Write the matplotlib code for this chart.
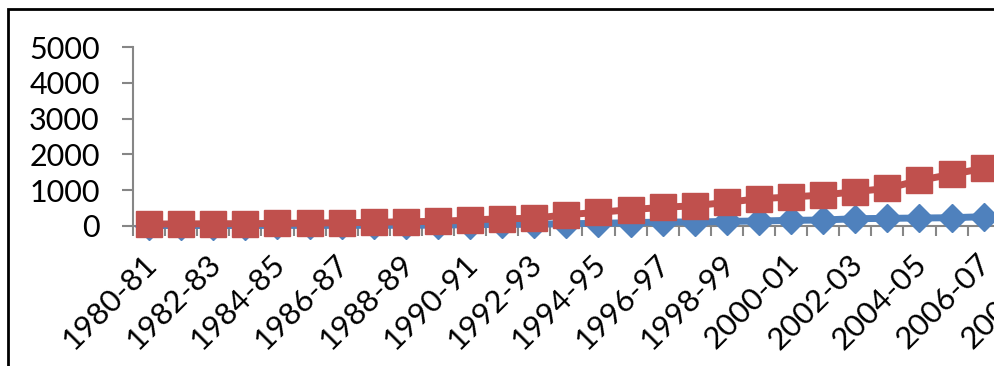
import matplotlib.pyplot as plt
from matplotlib.patches import Rectangle
from matplotlib.transforms import ScaledTranslation

# category labels (the chart is cropped on the right, last ones are partly hidden)
years = [
    '1980-81', '1981-82', '1982-83', '1983-84', '1984-85', '1985-86',
    '1986-87', '1987-88', '1988-89', '1989-90', '1990-91', '1991-92',
    '1992-93', '1993-94', '1994-95', '1995-96', '1996-97', '1997-98',
    '1998-99', '1999-00', '2000-01', '2001-02', '2002-03', '2003-04',
    '2004-05', '2005-06', '2006-07', '2007-08', '2008-09',
]

# series
blue_vals = [5, 5, 5, 5, 8, 8, 10, 10, 12, 15, 30, 35, 40, 56, 65, 84,
             103, 103, 121, 131, 150, 159, 196, 206, 215, 224, 252, 265, 280]
red_vals = [48, 48, 56, 56, 65, 70, 84, 93, 112, 121, 159, 196, 206, 308,
            374, 449, 514, 561, 654, 757, 804, 860, 953, 1047, 1271, 1439,
            1607, 1780, 1950]

yticks = [0, 1000, 2000, 3000, 4000, 5000]

plt.rcParams['font.family'] = ['Lato', 'DejaVu Sans']

W, H = 994, 366
fig = plt.figure(figsize=(W / 100, H / 100), dpi=100)

n = len(years)
step = 32.1
left, bottom, top = 133, 225.7, 47.3
ax = fig.add_axes([left / W, (H - bottom) / H,
                   n * step / W, (bottom - top) / H])

x = list(range(n))
ax.plot(x, blue_vals, color='#4F81BD', lw=5, marker='D', ms=14,
        mec='#4F81BD', clip_on=False, zorder=3)
ax.plot(x, red_vals, color='#C0504D', lw=5, marker='s', ms=18.5,
        mec='#C0504D', clip_on=False, zorder=4)

ax.set_xlim(-0.5, n - 0.5)
ax.set_ylim(0, 5000)

ax.set_yticks(yticks)
ax.set_yticklabels([str(v) for v in yticks], fontsize=22)
ax.tick_params(axis='y', length=8, width=1.5, color='#868686', pad=16)

# labels on every second category, tick marks on category boundaries
ax.set_xticks(x[::2])
ax.set_xticklabels(years[::2], fontsize=22.5, rotation=45, ha='right',
                   va='center', rotation_mode='anchor')
ax.tick_params(axis='x', which='major', length=0, pad=24)
shift = ScaledTranslation(3 / 100, 0, fig.dpi_scale_trans)
for lab in ax.get_xticklabels():
    lab.set_transform(lab.get_transform() + shift)
ax.set_xticks([i - 0.5 for i in range(n + 1)], minor=True)
ax.tick_params(axis='x', which='minor', length=7.5, width=1.5,
               color='#868686')

for s in ['top', 'right']:
    ax.spines[s].set_visible(False)
for s in ['left', 'bottom']:
    ax.spines[s].set_color('#868686')
    ax.spines[s].set_linewidth(1.5)
    ax.spines[s].set_zorder(1)

# outer chart border (cut by the crop on the right and bottom)
fig.patches.append(Rectangle((7.5 / W, -0.2), 1.5, 1.2 - 8.5 / H,
                             transform=fig.transFigure, fill=False,
                             ec='black', lw=2))

fig.savefig('out.png', dpi=100)
